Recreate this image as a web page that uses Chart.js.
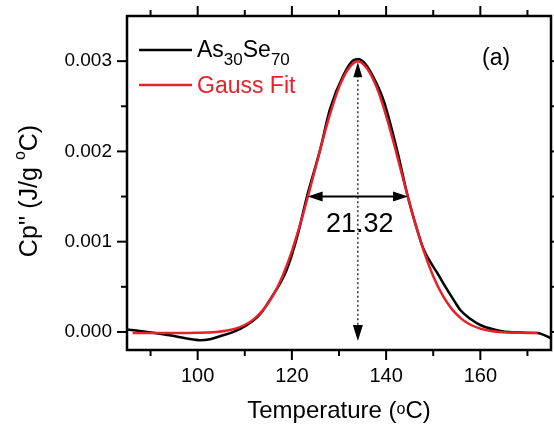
<!DOCTYPE html>
<html>
<head>
<meta charset="utf-8">
<script src="https://cdn.jsdelivr.net/npm/chart.js@4/dist/chart.umd.min.js"></script>
<style>
  html, body { margin: 0; padding: 0; background: #ffffff; }
  #wrap { width: 554px; height: 429px; }
</style>
</head>
<body>
<div id="wrap"><canvas id="c" width="554" height="429"></canvas></div>
<script>
// Measured reversing-heat-flow derivative, As30Se70
const obsTemp = [85, 87.7, 90.5, 94, 97.7, 100.5, 102.6, 104.7, 107.6, 110.4, 113.3, 115.4, 118.9, 121.1,
  123.2, 126.0, 128.1, 131.0, 133.1, 134.2, 135.4, 136.7, 139.5, 142.3, 144.6, 146.6, 148.0, 149.1, 150.9,
  152.6, 154.4, 155.8, 158.0, 160.1, 164.3, 168.6, 172.1, 175];
const obsCp = [0.000027, 0.000011, -0.00001, -0.000037, -0.000073, -0.000092, -0.000081, -0.000048, 0.0,
  0.000074, 0.0002, 0.00036, 0.00069, 0.00105, 0.0015, 0.00202, 0.00247, 0.00285, 0.00301, 0.00302, 0.00298,
  0.00288, 0.00256, 0.00202, 0.0015, 0.00113, 0.00091, 0.0008, 0.00065, 0.0005, 0.00035, 0.00024, 0.00014,
  0.000074, 0.000011, -0.000007, -0.000011, -0.00007];

// Gaussian fit curve
const fitTemp = [86.2, 88, 90, 92, 94, 96, 98, 100, 102, 104, 106, 108, 110, 112, 114, 116, 118, 120, 122,
  124, 126, 128, 130, 132, 134, 136, 138, 140, 142, 144, 146, 148, 150, 152, 154, 156, 158, 160, 162, 164,
  166, 168, 170, 172.2];
const fitCp = [-0.000012, -0.000012, -0.000012, -0.000012, -0.000012, -0.000011, -0.000011, -0.000009,
  -0.000006, 0.0, 0.000013, 0.000037, 0.000077, 0.000145, 0.00025, 0.000404, 0.000618, 0.000896, 0.001235,
  0.001618, 0.002018, 0.002396, 0.002709, 0.002916, 0.003, 0.002916, 0.002709, 0.002396, 0.002018, 0.001618,
  0.001235, 0.000896, 0.000618, 0.000404, 0.00025, 0.000145, 0.000077, 0.000037, 0.000013, 0.0, -0.000006,
  -0.000009, -0.000011, -0.000011];

// Peak position and full width at half maximum of the fit
const peakTemp = 134;
const peakCp = 0.003;
const fwhm = 21.32;
const arrowFloor = -0.0001;

// Axis ticks
const xTickValues = [100, 120, 140, 160];
const xTickLabels = ['100', '120', '140', '160'];
const xMinorValues = [90, 110, 130, 150, 170];
const yTickValues = [0.000, 0.001, 0.002, 0.003];
const yTickLabels = ['0.000', '0.001', '0.002', '0.003'];
const yMinorValues = [0.0005, 0.0015, 0.0025];

const FONT = "'Liberation Sans', Arial, Helvetica, sans-serif";
const RED = '#e8202a';

function toPoints(xs, ys) { return xs.map((v, i) => ({ x: v, y: ys[i] })); }

// Draws a run of text pieces (with optional size and vertical shift) centred on (0, 0)
function richText(ctx, parts, color) {
  let total = 0;
  parts.forEach(p => { ctx.font = p.size + 'px ' + FONT; p.w = ctx.measureText(p.t).width; total += p.w; });
  let cx = -total / 2;
  ctx.fillStyle = color;
  ctx.textBaseline = 'alphabetic';
  ctx.textAlign = 'left';
  parts.forEach(p => { ctx.font = p.size + 'px ' + FONT; ctx.fillText(p.t, cx, p.dy || 0); cx += p.w; });
}

function richTextLeft(ctx, parts, x0, y0, color) {
  let cx = x0;
  ctx.fillStyle = color;
  ctx.textBaseline = 'alphabetic';
  ctx.textAlign = 'left';
  parts.forEach(p => {
    ctx.font = p.size + 'px ' + FONT;
    ctx.fillText(p.t, cx, y0 + (p.dy || 0));
    cx += ctx.measureText(p.t).width;
  });
}

function arrowHead(ctx, tipX, tipY, dx, dy, len, halfW) {
  const bx = tipX - dx * len, by = tipY - dy * len;
  const nx = -dy, ny = dx;
  ctx.beginPath();
  ctx.moveTo(tipX, tipY);
  ctx.lineTo(bx + nx * halfW, by + ny * halfW);
  ctx.lineTo(bx - nx * halfW, by - ny * halfW);
  ctx.closePath();
  ctx.fill();
}

const framePlugin = {
  id: 'frameAndNotes',
  afterDatasetsDraw(chart) {
    const { ctx, chartArea: { left, right, top, bottom }, scales: { x, y } } = chart;
    ctx.save();

    // plot frame with outward ticks on all four sides
    ctx.strokeStyle = '#000';
    ctx.lineWidth = 2.5;
    ctx.strokeRect(left, top, right - left, bottom - top);
    ctx.lineWidth = 2;
    const seg = (x1, y1, x2, y2) => { ctx.beginPath(); ctx.moveTo(x1, y1); ctx.lineTo(x2, y2); ctx.stroke(); };
    const MAJ = 10, MIN = 6;
    xTickValues.forEach(v => { const p = x.getPixelForValue(v); seg(p, bottom, p, bottom + MAJ); seg(p, top, p, top - MAJ); });
    xMinorValues.forEach(v => { const p = x.getPixelForValue(v); seg(p, bottom, p, bottom + MIN); seg(p, top, p, top - MIN); });
    yTickValues.forEach(v => { const p = y.getPixelForValue(v); seg(left, p, left - MAJ, p); seg(right, p, right + MAJ, p); });
    yMinorValues.forEach(v => { const p = y.getPixelForValue(v); seg(left, p, left - MIN, p); seg(right, p, right + MIN, p); });

    // dotted marker at the peak temperature
    const px = x.getPixelForValue(peakTemp);
    const pTop = y.getPixelForValue(peakCp);
    const pBot = y.getPixelForValue(arrowFloor);
    ctx.fillStyle = '#000';
    ctx.lineWidth = 1.2;
    ctx.setLineDash([2, 2.5]);
    seg(px, pTop + 14, px, pBot - 14);
    ctx.setLineDash([]);
    arrowHead(ctx, px, pTop + 1, 0, -1, 15, 4.5);
    arrowHead(ctx, px, pBot, 0, 1, 16, 5);

    // FWHM double arrow
    const hy = y.getPixelForValue(peakCp / 2);
    const xl = x.getPixelForValue(peakTemp - fwhm / 2);
    const xr = x.getPixelForValue(peakTemp + fwhm / 2);
    ctx.lineWidth = 2;
    seg(xl + 10, hy, xr - 10, hy);
    arrowHead(ctx, xl, hy, -1, 0, 15, 5);
    arrowHead(ctx, xr, hy, 1, 0, 15, 5);
    ctx.font = '27px ' + FONT;
    ctx.textAlign = 'center';
    ctx.textBaseline = 'alphabetic';
    ctx.fillText(fwhm.toFixed(2), px + 2, hy + 35);

    // panel tag
    ctx.font = '23px ' + FONT;
    ctx.textAlign = 'left';
    ctx.fillText('(a)', 482, 65);

    // legend
    ctx.lineWidth = 2.4;
    ctx.strokeStyle = '#000';
    seg(139, 50, 192, 50);
    richTextLeft(ctx, [
      { t: 'As', size: 23 }, { t: '30', size: 17, dy: 8 }, { t: 'Se', size: 23 }, { t: '70', size: 17, dy: 8 }
    ], 197, 57, '#000');
    ctx.strokeStyle = RED;
    seg(139, 85, 192, 85);
    richTextLeft(ctx, [{ t: 'Gauss Fit', size: 23 }], 197, 93, RED);

    // axis titles
    ctx.save();
    ctx.translate((left + right) / 2, 418);
    richText(ctx, [{ t: 'Temperature (', size: 24 }, { t: 'o', size: 16, dy: -4 }, { t: 'C)', size: 24 }], '#000');
    ctx.restore();

    ctx.save();
    ctx.translate(37, 191);
    ctx.rotate(-Math.PI / 2);
    richText(ctx, [{ t: "Cp'' (J/g ", size: 25 }, { t: 'o', size: 16, dy: -12 }, { t: 'C)', size: 25 }], '#000');
    ctx.restore();

    ctx.restore();
  }
};

new Chart(document.getElementById('c'), {
  type: 'line',
  data: {
    datasets: [
      {
        label: 'Gauss Fit',
        data: toPoints(fitTemp, fitCp),
        borderColor: RED,
        borderWidth: 2.5,
        pointRadius: 0,
        cubicInterpolationMode: 'monotone',
        fill: false,
        order: 0
      },
      {
        label: 'As30Se70',
        data: toPoints(obsTemp, obsCp),
        borderColor: '#000',
        borderWidth: 2.5,
        pointRadius: 0,
        cubicInterpolationMode: 'monotone',
        fill: false,
        order: 1
      }
    ]
  },
  options: {
    responsive: false,
    animation: false,
    devicePixelRatio: 1,
    layout: { padding: { top: 16, right: 3, left: 0, bottom: 0 } },
    plugins: { legend: { display: false }, tooltip: { enabled: false } },
    scales: {
      x: {
        type: 'linear',
        min: 85, max: 175,
        grid: { display: false, drawTicks: false },
        border: { display: false },
        afterBuildTicks: s => { s.ticks = xTickValues.map(v => ({ value: v })); },
        afterFit: s => { s.height = 79; s.paddingLeft = 0; s.paddingRight = 0; },
        ticks: {
          padding: 14,
          color: '#000',
          font: { family: FONT, size: 20 },
          maxRotation: 0,
          callback: v => xTickLabels[xTickValues.indexOf(v)]
        }
      },
      y: {
        type: 'linear',
        min: -0.0002, max: 0.0035,
        grid: { display: false, drawTicks: false },
        border: { display: false },
        afterBuildTicks: s => { s.ticks = yTickValues.map(v => ({ value: v })); },
        afterFit: s => { s.width = 127; s.paddingTop = 0; s.paddingBottom = 0; },
        ticks: {
          padding: 15,
          color: '#000',
          font: { family: FONT, size: 19 },
          callback: v => yTickLabels[yTickValues.indexOf(v)]
        }
      }
    }
  },
  plugins: [framePlugin]
});
</script>
</body>
</html>
